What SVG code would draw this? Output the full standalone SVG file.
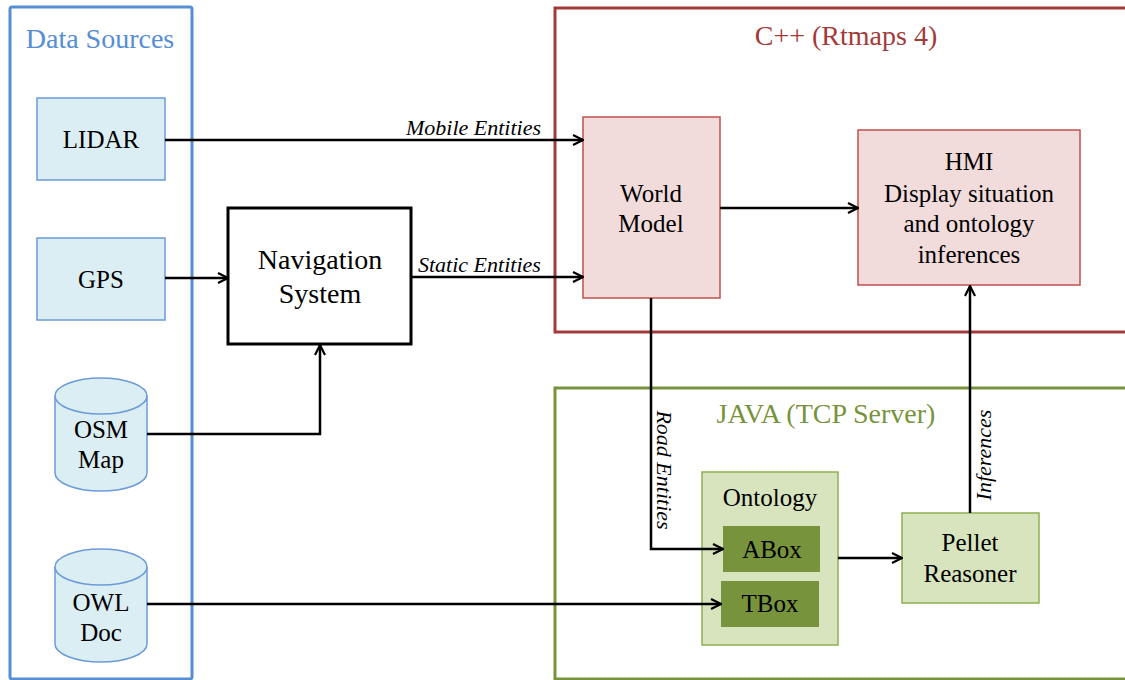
<svg xmlns="http://www.w3.org/2000/svg" width="1125" height="680" viewBox="0 0 1125 680">
<style>
text{font-family:"Liberation Serif","Times New Roman",serif;fill:#000;text-anchor:middle}
.n{font-size:25px}
.t{font-size:28px}
.e{font-size:22px;font-style:italic}
.src{fill:#DBEEF4;stroke:#6C9BD8;stroke-width:1.5}
.red{fill:#F2DCDB;stroke:#C0504D;stroke-width:1.5}
.grn{fill:#D7E4BD;stroke:#8DB050;stroke-width:1.5}
.dk{fill:#77933C;stroke:none}
.c{fill:none;stroke:#000;stroke-width:2.5}
</style>
<defs>
<marker id="a" viewBox="0 0 12 12" refX="11" refY="6" markerWidth="12" markerHeight="12" markerUnits="userSpaceOnUse" orient="auto">
<path d="M1,1 L11,6 L1,11" fill="none" stroke="#000" stroke-width="2.2"/>
</marker>
</defs>
<g id="containers">
<rect x="10" y="7" width="182" height="672" fill="none" stroke="#558ED5" stroke-width="3" rx="2"/>
<text x="100" y="48" class="t" style="fill:#558ED5">Data Sources</text>
<rect x="555" y="8" width="580" height="324" fill="none" stroke="#A33A3A" stroke-width="3"/>
<text x="846" y="45" class="t" style="fill:#A33A3A">C++ (Rtmaps 4)</text>
<rect x="555" y="388" width="580" height="291" fill="none" stroke="#77933C" stroke-width="3"/>
<text x="826" y="423" class="t" style="fill:#77933C">JAVA (TCP Server)</text>
</g>
<g id="lidar"><rect x="37" y="98" width="128" height="82" class="src"/><text x="101" y="148" class="n">LIDAR</text></g>
<g id="gps"><rect x="37" y="238" width="128" height="82" class="src"/><text x="101" y="288" class="n">GPS</text></g>
<g id="osm">
<path d="M55,396 A46,18 0 0 1 147,396 L147,473 A46,18 0 0 1 55,473 Z" class="src"/>
<path d="M55,396 A46,18 0 0 0 147,396" class="src" fill="none"/>
<text x="101" y="438" class="n">OSM</text><text x="101" y="468" class="n">Map</text>
</g>
<g id="owl">
<path d="M55,567 A46,18 0 0 1 147,567 L147,644 A46,18 0 0 1 55,644 Z" class="src"/>
<path d="M55,567 A46,18 0 0 0 147,567" class="src" fill="none"/>
<text x="101" y="611" class="n">OWL</text><text x="101" y="641" class="n">Doc</text>
</g>
<g id="nav"><rect x="228" y="208" width="183" height="136" fill="#fff" stroke="#000" stroke-width="3"/><text x="320" y="269" class="t">Navigation</text><text x="320" y="303" class="t">System</text></g>
<g id="world"><rect x="583" y="117" width="137" height="181" class="red"/><text x="651" y="202" class="n">World</text><text x="651" y="232" class="n">Model</text></g>
<g id="hmi"><rect x="858" y="130" width="222" height="155" class="red"/>
<text x="969" y="170" class="n">HMI</text><text x="969" y="202" class="n">Display situation</text><text x="969" y="232" class="n">and ontology</text><text x="969" y="263" class="n">inferences</text></g>
<g id="ontology"><rect x="702" y="472" width="136" height="173" class="grn"/><text x="770" y="506" class="n">Ontology</text>
<g id="abox"><rect x="723" y="526" width="97" height="46" class="dk"/><text x="772" y="558" class="n">ABox</text></g>
<g id="tbox"><rect x="721" y="581" width="98" height="46" class="dk"/><text x="770" y="612" class="n">TBox</text></g>
</g>
<g id="pellet"><rect x="902" y="513" width="137" height="90" class="grn"/><text x="970" y="551" class="n">Pellet</text><text x="970" y="582" class="n">Reasoner</text></g>
<g id="connectors">
<path d="M165,140 L583,140" class="c" marker-end="url(#a)"/>
<text x="541" y="135" class="e" style="text-anchor:end">Mobile Entities</text>
<path d="M165,278 L228,278" class="c" marker-end="url(#a)"/>
<path d="M411,277 L583,277" class="c" marker-end="url(#a)"/>
<text x="418" y="272" class="e" style="text-anchor:start">Static Entities</text>
<path d="M147,434 L320,434 L320,345" class="c" marker-end="url(#a)"/>
<path d="M720,208 L858,208" class="c" marker-end="url(#a)"/>
<path d="M651,298 L651,549 L723,549" class="c" marker-end="url(#a)"/>
<text transform="translate(657,470) rotate(90)" class="e">Road Entities</text>
<path d="M147,604 L721,604" class="c" marker-end="url(#a)"/>
<path d="M838,558 L902,558" class="c" marker-end="url(#a)"/>
<path d="M970,513 L970,286" class="c" marker-end="url(#a)"/>
<text transform="translate(991,455) rotate(-90)" class="e">Inferences</text>
</g>
</svg>
